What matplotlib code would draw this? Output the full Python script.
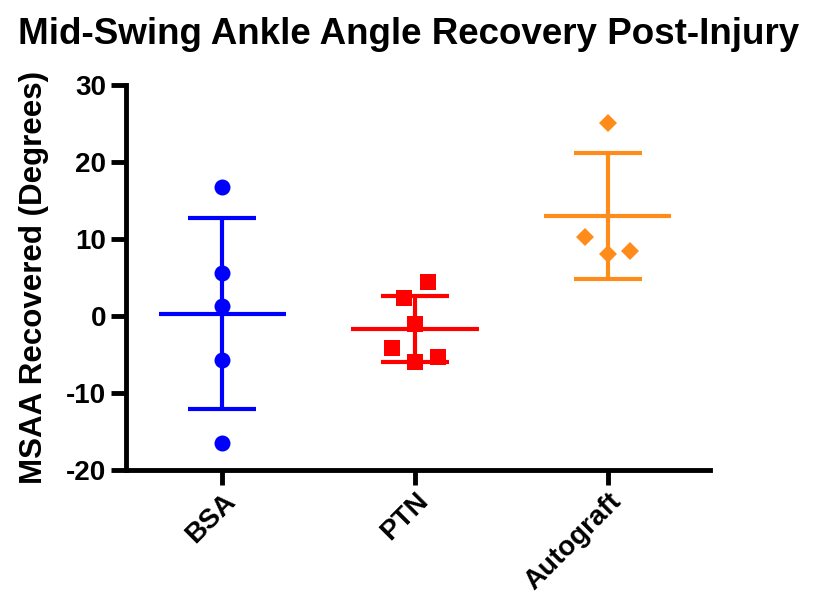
import numpy as np
import matplotlib.pyplot as plt

# MSAA recovered per animal (degrees)
groups = ['BSA', 'PTN', 'Autograft']
bsa = [16.7, 5.6, 1.3, -5.7, -16.5]
ptn = [4.4, 2.3, -1.1, -4.2, -6.0, -5.3]
autograft = [25.1, 10.2, 8.0, 8.5]
# horizontal scatter offsets so overlapping points stay visible
bsa_dx = [0, 0, 0, 0, 0]
ptn_dx = [0.065, -0.055, 0, -0.12, 0, 0.12]
autograft_dx = [0, -0.12, 0, 0.115]

colors = ['#0000FF', '#FF0000', '#FF8C1A']
markers = ['o', 's', 'D']
msizes = [11.5, 11, 9]

plt.rcParams['font.family'] = ['Liberation Sans', 'DejaVu Sans']
plt.rcParams['font.weight'] = 'bold'
plt.rcParams['axes.unicode_minus'] = False

fig = plt.figure(figsize=(8.17, 5.98), dpi=100)
ax = fig.add_axes([0.154, 0.214, 0.715, 0.644])

data = [bsa, ptn, autograft]
offsets = [bsa_dx, ptn_dx, autograft_dx]
for i, vals in enumerate(data):
	vals = np.array(vals)
	m = vals.mean()
	sd = vals.std(ddof=1)
	c = colors[i]
	ax.hlines(m, i - 0.33, i + 0.33, color=c, lw=3)
	ax.vlines(i, m - sd, m + sd, color=c, lw=3)
	ax.hlines([m - sd, m + sd], i - 0.175, i + 0.175, color=c, lw=3)
	ax.plot(i + np.array(offsets[i]), vals, linestyle='none', marker=markers[i],
		color=c, markersize=msizes[i], markeredgewidth=0, zorder=3)

ax.set_xlim(-0.5, 2.53)
ax.set_ylim(-20, 30)
ax.set_yticks([-20, -10, 0, 10, 20, 30])
ax.set_xticks([0, 1, 2])
ax.set_xticklabels(groups, rotation=45, ha='right', rotation_mode='anchor', fontsize=20)
for s in ['top', 'right']:
	ax.spines[s].set_visible(False)
for s in ['left', 'bottom']:
	ax.spines[s].set_linewidth(3.5)
ax.tick_params(width=3.5, length=11, pad=2)
ax.tick_params(axis='y', labelsize=20, pad=3)
ax.set_ylabel('MSAA Recovered (Degrees)', fontsize=22.5, fontweight='bold', labelpad=12)
fig.suptitle('Mid-Swing Ankle Angle Recovery Post-Injury', fontsize=26.5, fontweight='bold', y=0.972)

fig.savefig('out.png', dpi=100)
